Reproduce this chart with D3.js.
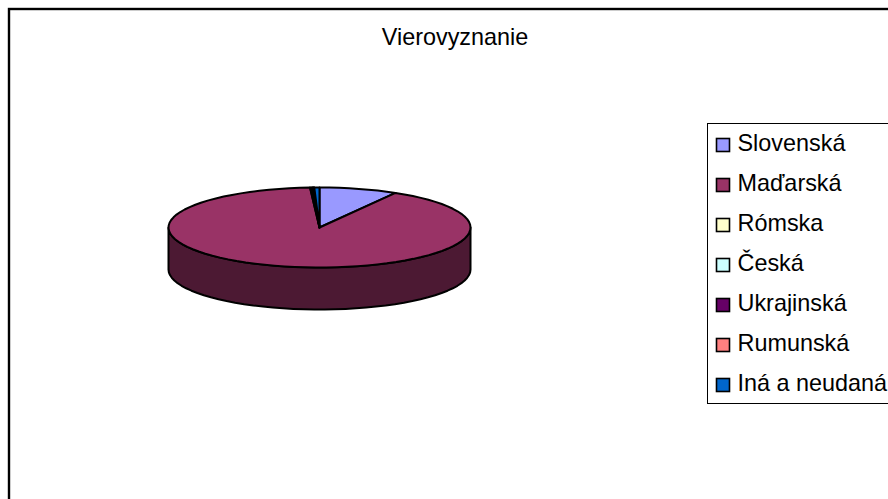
<!DOCTYPE html>
<html><head><meta charset="utf-8">
<script src="https://cdn.jsdelivr.net/npm/d3@7/dist/d3.min.js"></script>
<style>html,body{margin:0;padding:0;background:#fff;overflow:hidden}svg{display:block}text{font-family:"Liberation Sans",Arial,sans-serif;fill:#000}</style>
</head><body><svg id="c" width="888" height="499"></svg>
<script>
const title = "Vierovyznanie";
const categories = ["Slovenská","Maďarská","Rómska","Česká","Ukrajinská","Rumunská","Iná a neudaná"];
const values = [8.4,90.6,0.2,0.1,0.1,0.05,0.55];
const colors = ["#9999FF","#993366","#FFFFCC","#CCFFFF","#660066","#FF8080","#0066CC"];
const sideColors = ["#4C4C7F","#4C1933","#7F7F66","#667F7F","#330033","#7F4040","#003366"];

const svg = d3.select("#c");
const W=888,H=499;
svg.append("rect").attr("x",9).attr("y",9).attr("width",W+20).attr("height",H+20).attr("fill","#fff").attr("stroke","#000").attr("stroke-width",2.4);
svg.append("text").attr("x",455).attr("y",45).attr("text-anchor","middle").attr("font-size",23.4).text(title);

const cx=319.5,cy=227.5,rx=151,ry=40,depth=42;
const arcs=d3.pie().sort(null).value(d=>d)(values);
const px=a=>cx+rx*Math.sin(a), py=a=>cy-ry*Math.cos(a);
const line=d3.line();
function rimPts(a0,a1,off){
  const n=Math.max(2,Math.ceil((a1-a0)/(Math.PI/45)));
  return d3.range(n+1).map(i=>{const a=a0+(a1-a0)*i/n;return [px(a),py(a)+off];});
}
const g=svg.append("g").attr("stroke","#000").attr("stroke-width",2).attr("stroke-linejoin","round");
arcs.forEach((d,i)=>{
  const a0=Math.max(d.startAngle,Math.PI/2),a1=Math.min(d.endAngle,3*Math.PI/2);
  if(a1<=a0)return;
  const top=rimPts(a0,a1,0),bot=rimPts(a0,a1,depth).reverse();
  g.append("path").attr("d",line(top.concat(bot))+"Z").attr("fill",sideColors[i]);
});
arcs.forEach((d,i)=>{
  const pts=[[cx,cy]].concat(rimPts(d.startAngle,d.endAngle,0));
  g.append("path").attr("d",line(pts)+"Z").attr("fill",colors[i]);
});

const lg=svg.append("g");
lg.append("rect").attr("x",707.5).attr("y",123.5).attr("width",220).attr("height",280).attr("fill","#fff").attr("stroke","#000").attr("stroke-width",1);
const rowY=d3.scalePoint().domain(categories).range([145,385]);
categories.forEach((c,i)=>{
  const y=rowY(c);
  lg.append("rect").attr("x",716.5).attr("y",y-6.5).attr("width",13).attr("height",13).attr("fill",colors[i]).attr("stroke","#000").attr("stroke-width",1.6);
  lg.append("text").attr("x",737.5).attr("y",y+6).attr("font-size",23.4).text(c);
});
</script></body></html>
